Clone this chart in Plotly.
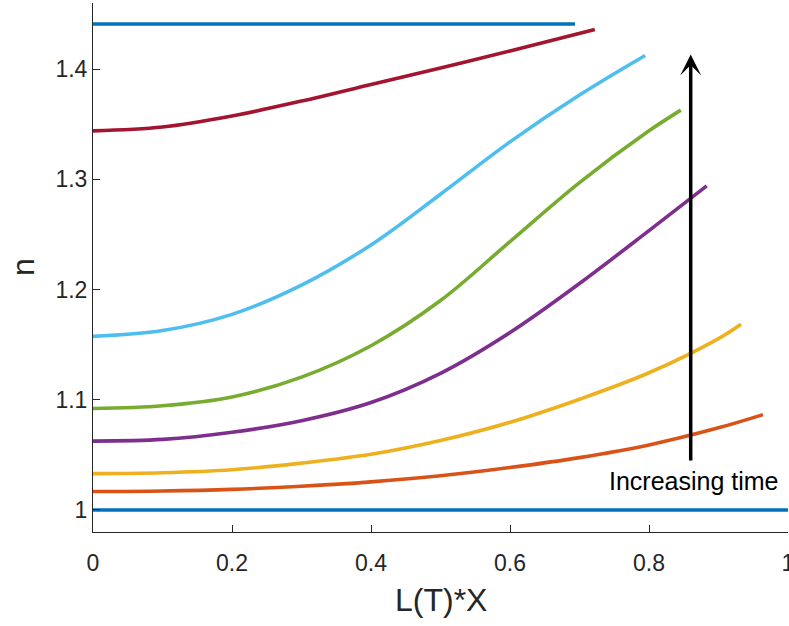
import plotly.graph_objects as go

# ---- data ----
x_base = [0.0, 1.0]
y_base = [1.0, 1.0]

x_orange = [0.0, 0.1, 0.2, 0.3, 0.4, 0.5, 0.6, 0.7, 0.8, 0.9, 0.964]
y_orange = [1.0167, 1.0172, 1.0187, 1.0215, 1.0255, 1.031, 1.0385, 1.0475, 1.059, 1.0745, 1.0865]

x_yellow = [0.0, 0.1, 0.2, 0.3, 0.4, 0.5, 0.6, 0.7, 0.8, 0.9, 0.9325]
y_yellow = [1.033, 1.0338, 1.0365, 1.0425, 1.0505, 1.063, 1.0795, 1.1005, 1.1245, 1.1555, 1.1685]

x_purple = [0.0, 0.1, 0.2, 0.3, 0.4, 0.5, 0.6, 0.7, 0.8, 0.883]
y_purple = [1.0625, 1.064, 1.0705, 1.081, 1.0975, 1.124, 1.161, 1.2055, 1.2535, 1.294]

x_green = [0.0, 0.1, 0.2, 0.3, 0.4, 0.5, 0.6, 0.7, 0.8, 0.8458]
y_green = [1.092, 1.0945, 1.1025, 1.1205, 1.149, 1.190, 1.2435, 1.297, 1.344, 1.3628]

x_lblue = [0.0, 0.1, 0.2, 0.3, 0.4, 0.5, 0.6, 0.7, 0.7945]
y_lblue = [1.1575, 1.1628, 1.1775, 1.204, 1.2405, 1.2865, 1.334, 1.3765, 1.4124]

x_red = [0.0, 0.1, 0.2, 0.3, 0.4, 0.5, 0.6, 0.722]
y_red = [1.344, 1.3475, 1.3575, 1.371, 1.386, 1.401, 1.4165, 1.436]

x_top = [0.0, 0.6935]
y_top = [1.441, 1.441]

x_ticks = [0, 0.2, 0.4, 0.6, 0.8, 1]
x_ticklabels = ["0", "0.2", "0.4", "0.6", "0.8", "1"]
y_ticks = [1, 1.1, 1.2, 1.3, 1.4]
y_ticklabels = ["1", "1.1", "1.2", "1.3", "1.4"]

arrow_x = 0.86
arrow_y0 = 1.0435
arrow_y1 = 1.4133
label_x = 0.865
label_y = 1.026

series = [
    (x_base, y_base, "#0072BD"),
    (x_orange, y_orange, "#D95319"),
    (x_yellow, y_yellow, "#EDB120"),
    (x_purple, y_purple, "#7E2F8E"),
    (x_green, y_green, "#77AC30"),
    (x_lblue, y_lblue, "#4DBEEE"),
    (x_red, y_red, "#A2142F"),
    (x_top, y_top, "#0072BD"),
]

FONT = "Liberation Sans, Arial, Helvetica, sans-serif"
AX = "#262626"

fig = go.Figure()
for xs, ys, c in series:
    fig.add_trace(go.Scatter(x=xs, y=ys, mode="lines",
                             line=dict(color=c, width=3.6, shape="spline", smoothing=1.0),
                             showlegend=False, hoverinfo="skip"))

fig.add_annotation(x=arrow_x, y=arrow_y1, ax=arrow_x, ay=arrow_y0,
                   xref="x", yref="y", axref="x", ayref="y",
                   showarrow=True, arrowhead=3, arrowwidth=3.5, arrowsize=1.0,
                   arrowcolor="black", text="")
fig.add_annotation(x=label_x, y=label_y, xref="x", yref="y", text="Increasing time",
                   showarrow=False, font=dict(family=FONT, size=25, color="black"),
                   xanchor="center", yanchor="middle")

fig.add_annotation(x=-0.1014, y=0.5, xref="paper", yref="paper", text="n",
                   textangle=-90, showarrow=False,
                   font=dict(family=FONT, size=32, color=AX),
                   xanchor="center", yanchor="middle")
fig.add_annotation(x=0.5, y=-0.128, xref="paper", yref="paper", text="L(T)*X",
                   showarrow=False, font=dict(family=FONT, size=32, color=AX),
                   xanchor="center", yanchor="middle")

fig.update_xaxes(range=[0, 1], tickvals=x_ticks, ticktext=x_ticklabels,
                 ticks="inside", ticklen=7, tickwidth=1, tickcolor=AX,
                 showline=True, linecolor=AX, linewidth=1, mirror=False,
                 showgrid=False, zeroline=False, ticklabelstandoff=10,
                 ticklabeloverflow="allow", automargin=False,
                 tickfont=dict(family=FONT, size=23, color=AX))
fig.update_yaxes(range=[0.98, 1.46], tickvals=y_ticks, ticktext=y_ticklabels,
                 ticks="inside", ticklen=7, tickwidth=1, tickcolor=AX,
                 showline=True, linecolor=AX, linewidth=1, mirror=False,
                 showgrid=False, zeroline=False, automargin=False,
                 tickfont=dict(family=FONT, size=23, color=AX))

fig.update_layout(width=789, height=626,
                  margin=dict(l=93, r=1, t=3, b=94, pad=0),
                  plot_bgcolor="white", paper_bgcolor="white")

fig.write_html("out.html")
